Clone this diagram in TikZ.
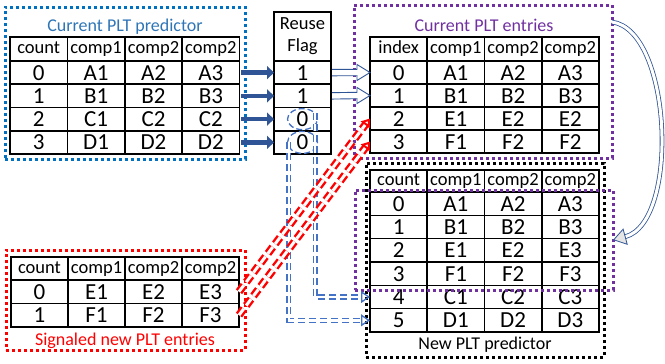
\documentclass[tikz,border=0pt]{standalone}
\usepackage{fontspec}
\setmainfont{Carlito}
\usetikzlibrary{arrows.meta,shapes.geometric,calc,matrix}
\definecolor{cpblue}{HTML}{0070C0}
\definecolor{titleblue}{HTML}{2E75B6}
\definecolor{purp}{HTML}{7030A0}
\definecolor{arrblue}{HTML}{2F5597}
\definecolor{dblue}{HTML}{4472C4}
\begin{document}
\begin{tikzpicture}[x=1pt,y=-1pt,
  cellfont/.style={font=\fontsize{23}{26}\selectfont},
  hdrfont/.style={font=\fontsize{18.5}{22}\selectfont},
  titlefont/.style={font=\fontsize{18}{21}\selectfont},
  tbl/.style n args={3}{matrix of nodes, inner sep=0pt, outer sep=0pt,
    column sep=-1.6pt, row sep=-1.6pt, cells={anchor=center},
    nodes={draw, line width=1.6pt, outer sep=0pt, inner sep=0pt, cellfont,
      minimum height=#1, minimum width=#3, text height=15.5pt, text depth=0.5pt},
    row 1/.style={nodes={hdrfont, minimum height=#2, text height=12.5pt, text depth=3.5pt}}},
  flagcell/.style={draw, line width=1.6pt, outer sep=0pt, inner sep=0pt, minimum width=57pt},
  dotbox/.style={inner sep=0pt, outer sep=0pt, anchor=north west, line width=3pt, dash pattern=on 3pt off 3pt},
  thickarr/.style={draw=arrblue, line width=4.5pt, -{Triangle[length=7pt,width=13pt]}},
  hollow/.style={draw=arrblue, line width=0.9pt, fill=white, line join=miter},
  dashdbl/.style={draw=dblue, line width=1.3pt, double=white, double distance=2.5pt,
    dash pattern=on 7pt off 4pt, -{Triangle[open,length=9pt,width=12pt,line width=1.3pt]}},
  reddbl/.style={draw=red, line width=2.4pt, double=white, double distance=3pt,
    dash pattern=on 8pt off 4pt, -{Triangle[open,length=8pt,width=11pt,line width=2pt]}},
  curvarr/.style={draw=arrblue, line width=0.8pt, double=white, double distance=3pt,
    -{Triangle[length=13pt,width=17pt,fill=gray!20,color=arrblue,line width=0.8pt]}},
]
\useasboundingbox (0,0) rectangle (665,364);

% Current PLT predictor
\matrix (cp) [tbl={23.25pt}{24pt}{57.4pt}, anchor=north west] at (9.2,36.2) {
count & comp1 & comp2 & comp2 \\
0 & A1 & A2 & A3 \\
1 & B1 & B2 & B3 \\
2 & C1 & C2 & C2 \\
3 & D1 & D2 & D2 \\
};
\node[dotbox, draw=cpblue, minimum width=240pt, minimum height=152pt] (cpbox) at (5,7) {};
\node[titlefont, text=titleblue] (cpt) at (125,27) {Current PLT predictor};

% Reuse flag
\node[flagcell, hdrfont, minimum height=49pt, anchor=north west, align=center] (rf-1-1) at (274,12) {Reuse\\Flag};
\node[flagcell, cellfont, minimum height=23.25pt, text height=15.5pt, text depth=0.5pt, anchor=north] (rf-2-1) at (rf-1-1.south) {1};
\node[flagcell, cellfont, minimum height=23.25pt, text height=15.5pt, text depth=0.5pt, anchor=north] (rf-3-1) at (rf-2-1.south) {1};
\node[flagcell, cellfont, minimum height=23.25pt, text height=15.5pt, text depth=0.5pt, anchor=north] (rf-4-1) at (rf-3-1.south) {0};
\node[flagcell, cellfont, minimum height=23.25pt, text height=15.5pt, text depth=0.5pt, anchor=north] (rf-5-1) at (rf-4-1.south) {0};

% Current PLT entries
\matrix (ce) [tbl={23pt}{24pt}{57.25pt}, anchor=north west] at (369.2,36.2) {
index & comp1 & comp2 & comp2 \\
0 & A1 & A2 & A3 \\
1 & B1 & B2 & B3 \\
2 & E1 & E2 & E2 \\
3 & F1 & F2 & F2 \\
};
\node[dotbox, draw=purp, minimum width=258pt, minimum height=153pt] (cebox) at (354,5) {};
\node[titlefont, text=purp] (cet) at (484,25) {Current PLT entries};

% New PLT predictor
\matrix (np) [tbl={23.33pt}{22pt}{57.25pt}, anchor=north west] at (369.2,169.2) {
count & comp1 & comp2 & comp2 \\
0 & A1 & A2 & A3 \\
1 & B1 & B2 & B3 \\
2 & E1 & E2 & E3 \\
3 & F1 & F2 & F3 \\
4 & C1 & C2 & C3 \\
5 & D1 & D2 & D3 \\
};
\node[dotbox, draw=black, minimum width=238pt, minimum height=194pt] (npbox) at (366,163) {};
\node[dotbox, draw=purp, minimum width=258pt, minimum height=100pt] (npin) at (355,190) {};
\node[titlefont] (npt) at (485,345) {New PLT predictor};

% Signaled new PLT entries
\matrix (sg) [tbl={23.4pt}{23pt}{57pt}, anchor=north west] at (10.2,256.2) {
count & comp1 & comp2 & comp2 \\
0 & E1 & E2 & E3 \\
1 & F1 & F2 & F3 \\
};
\node[dotbox, draw=red, minimum width=239pt, minimum height=100pt] (sgbox) at (6,250) {};
\node[titlefont, text=red] (sgt) at (125,341) {Signaled new PLT entries};

% thick arrows
\foreach \r in {2,3,4,5}
  \draw[thickarr] ([xshift=1.5pt]cp-\r-4.east) -- (rf-\r-1.west);

% hollow block arrows
\foreach \r in {2,3}
  \draw[hollow] ($(rf-\r-1.east)+(1,-3.2)$) -- ($(ce-\r-1.west)+(-13,-3.2)$) -- ($(ce-\r-1.west)+(-13,-8)$)
    -- (ce-\r-1.west) -- ($(ce-\r-1.west)+(-13,8)$) -- ($(ce-\r-1.west)+(-13,3.2)$) -- ($(rf-\r-1.east)+(1,3.2)$);

% dashed ellipses around reuse flags 0
\node[draw=dblue, line width=1.3pt, dash pattern=on 6pt off 3pt, ellipse, minimum width=30pt, minimum height=21pt, inner sep=0pt] (o1) at (rf-4-1) {};
\node[draw=dblue, line width=1.3pt, dash pattern=on 6pt off 3pt, ellipse, minimum width=30pt, minimum height=22pt, inner sep=0pt] (o2) at (rf-5-1) {};

% dashed double arrows to new rows
\draw[dashdbl] ($(o1.east)+(-3,-6)$) |- (np-6-1.west);
\draw[dashdbl] ($(o2.west)+(2,0)$) |- (np-7-1.west);

% red dashed double arrows
\draw[reddbl] (sg-2-4.east) -- (ce-4-1.west);
\draw[reddbl] (sg-3-4.east) -- (ce-5-1.west);

% curved arrow
\draw[curvarr] ($(cebox.north east)+(0,17)$) .. controls (672,30) and (680,222) .. (npin.east);
\end{tikzpicture}
\end{document}
